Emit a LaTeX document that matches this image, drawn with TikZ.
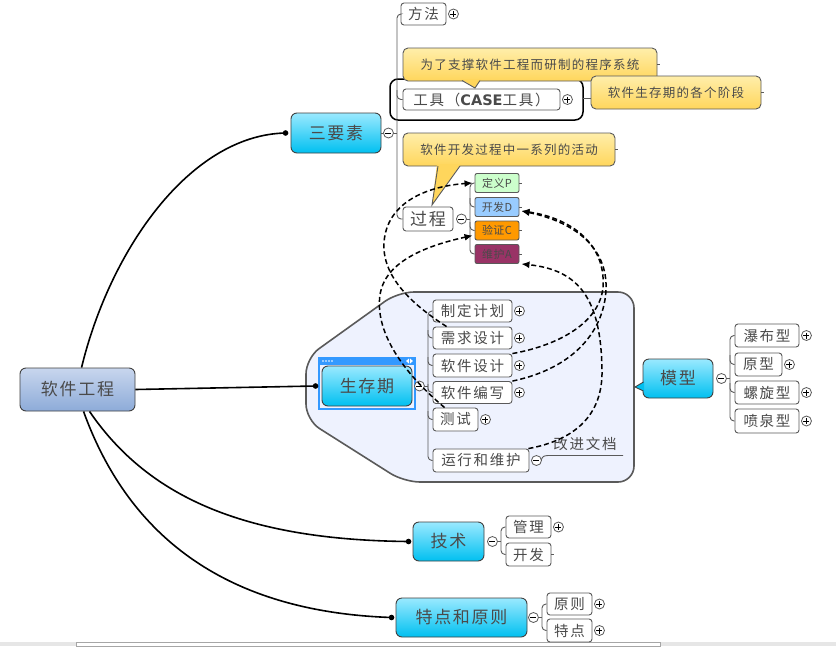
\documentclass[tikz,border=0pt]{standalone}
\usepackage{fontspec}
\usetikzlibrary{arrows.meta}
\newfontfamily\cjkM[LetterSpace=10]{Noto Sans CJK SC}
\newfontfamily\cjkS[LetterSpace=12]{Noto Sans CJK SC}
\newfontfamily\cjkC[LetterSpace=10]{Noto Sans CJK SC}
\newfontfamily\cjkP[LetterSpace=4]{Noto Sans CJK SC}
\newfontfamily\latb{DejaVu Sans}
\definecolor{txt}{HTML}{4A4A4A}
\definecolor{bd}{HTML}{5A5A5A}
\definecolor{cyT}{HTML}{9AE9FF}
\definecolor{cyB}{HTML}{00C0F0}
\definecolor{rjT}{HTML}{C8D6EE}
\definecolor{rjB}{HTML}{8DABD8}
\definecolor{ylT}{HTML}{FFEEAA}
\definecolor{ylB}{HTML}{FFD65C}
\definecolor{bnd}{HTML}{EEF2FE}
\definecolor{sel}{HTML}{3399FF}
\definecolor{cP}{HTML}{CCFFCC}
\definecolor{cD}{HTML}{99CCFF}
\definecolor{cC}{HTML}{FF9900}
\definecolor{cA}{HTML}{993366}
\definecolor{strip}{HTML}{E6E6E6}
\begin{document}
\begin{tikzpicture}[x=1pt,y=-1pt,
  subt/.style={draw=bd, line width=0.9pt, rounded corners=3pt, fill=white, text=txt, inner sep=0pt, font=\cjkS\fontsize{14.5}{15}\selectfont},
  maint/.style={draw=black!75, line width=0.9pt, rounded corners=6pt, top color=cyT, bottom color=cyB, text=txt, inner sep=0pt, font=\cjkM\fontsize{17}{17}\selectfont},
  callout/.style={draw=bd, line width=0.9pt, rounded corners=5pt, top color=ylT, bottom color=ylB, text=txt, inner sep=0pt, font=\cjkC\fontsize{12.5}{13}\selectfont},
  pdca/.style={draw=bd, line width=0.9pt, rounded corners=2pt, text=txt, inner sep=0pt, minimum width=44pt, minimum height=19pt, font=\cjkP\fontsize{11}{11}\selectfont},
  branch/.style={draw=bd, line width=0.9pt, rounded corners=4pt},
  tick/.style={draw=bd, line width=0.9pt},
  mainline/.style={draw=black, line width=1.6pt},
  rel/.style={draw=black, line width=1.5pt, dash pattern=on 5pt off 3pt, -{Latex[length=8pt,width=7pt]}},
  pics/togplus/.style={code={\draw[bd, fill=white, line width=0.8pt] (0,0) circle (5); \draw[black, line width=0.8pt] (-3,0)--(3,0) (0,-3)--(0,3);}},
  pics/togminus/.style={code={\draw[bd, fill=white, line width=0.8pt] (0,0) circle (5); \draw[black, line width=0.8pt] (-3,0)--(3,0);}},
]
\useasboundingbox (0,0) rectangle (836,646);
\fill[white] (0,0) rectangle (836,646);
% bottom strip
\fill[strip] (0,642) rectangle (836,646);
\draw[gray!70, fill=white] (76,642.5) rectangle (660,646);

% lifecycle boundary
\path[draw=bd, line width=1.6pt, fill=bnd, rounded corners=16pt] (306,420) -- (306,358) -- (398,292) -- (634,292) -- (634,482) -- (404,482) -- cycle;
% tool boundary
\draw[black, line width=1.5pt, rounded corners=8pt] (390,79) rectangle (583,120);
\coordinate (gjb) at (583,98);

% main topics
\node[maint, top color=rjT, bottom color=rjB, minimum width=115pt, minimum height=43pt] (rj) at (77.5,389.5) {软件工程};
\node[maint, minimum width=90pt, minimum height=40pt] (sy) at (336,133) {三要素};
\node[maint, minimum width=90pt, minimum height=40pt] (scq) at (367,386) {生存期};
\node[maint, minimum width=70pt, minimum height=39pt] (mx) at (678,378.5) {模型};
\node[maint, minimum width=71pt, minimum height=39pt] (js) at (448.5,541.5) {技术};
\node[maint, minimum width=131pt, minimum height=39pt] (td) at (461.5,617.5) {特点和原则};

% model tail
\fill[cyB] (644,382) -- (635,387) -- (644,391) -- cycle;
\draw[black!75, line width=0.9pt] (643.5,382) -- (635,387) -- (643.5,391);

% selection frame
\draw[sel, line width=2pt] (318.5,359) rectangle (414.5,408.5);
\fill[sel] (317.5,357) rectangle (415.5,365);
\foreach \i in {0,1,2,3} \fill[white] (323+3*\i,361) circle (0.8);
\fill[white] (406,361) -- (409,358.5) -- (409,363.5) -- cycle;
\fill[white] (410,358.5) -- (413,361) -- (410,363.5) -- cycle;

% three elements children
\node[subt, minimum width=45pt, minimum height=22pt] (ff) at (423.5,14) {方法};
\node[subt, minimum width=157pt, minimum height=21pt] (gj) at (481.5,99.5) {工具（{\latb\bfseries CASE}工具）};
\node[subt, font=\cjkM\fontsize{17}{17}\selectfont, minimum width=50pt, minimum height=24pt] (gc) at (428,219) {过程};

% callouts
\node[callout, minimum width=254pt, minimum height=33pt] (co1) at (530,64.5) {为了支撑软件工程而研制的程序系统};
\fill[ylB] (461,79) -- (475,88) -- (481,79) -- cycle;
\draw[bd, line width=0.9pt] (462,80.5) -- (475,88) -- (480,80.5);
\node[callout, minimum width=170pt, minimum height=33pt] (co2) at (676,92.5) {软件生存期的各个阶段};
\node[callout, minimum width=212pt, minimum height=33pt] (co3) at (509,149.5) {软件开发过程中一系列的活动};
\fill[ylB] (437,164) -- (432,205) -- (461,164) -- cycle;
\draw[bd, line width=0.9pt] (438,166) -- (432,205) -- (460,166);
\draw[tick] (gjb) -- ([yshift=-5.5pt]co2.west);
\draw[tick] (co1.east) -- ++(3,0);
\draw[tick] (co2.east) -- ++(3,0);
\draw[tick] (co3.east) -- ++(3,0);

% PDCA
\node[pdca, fill=cP] (dy) at (497,183) {定义P};
\node[pdca, fill=cD] (kf) at (497,207) {开发D};
\node[pdca, fill=cC] (yz) at (497,230.5) {验证C};
\node[pdca, fill=cA] (wh) at (497,254) {维护A};
\foreach \n in {dy,kf,yz,wh} \draw[tick] (\n.east) -- ++(3,0);

% lifecycle children
\node[subt, minimum width=79pt, minimum height=22pt] (zd) at (472.5,311) {制定计划};
\node[subt, minimum width=79pt, minimum height=22pt] (xq) at (472.5,338) {需求设计};
\node[subt, minimum width=79pt, minimum height=23pt] (rs) at (472.5,365.5) {软件设计};
\node[subt, minimum width=79pt, minimum height=22pt] (rb) at (472.5,392.5) {软件编写};
\node[subt, minimum width=45pt, minimum height=23pt] (cs) at (455.5,419.5) {测试};
\node[subt, minimum width=96pt, minimum height=23pt] (yw) at (481,460.5) {运行和维护};
\node[text=txt, font=\cjkS\fontsize{14.5}{15}\selectfont, inner sep=0pt] (gjwd) at (585,444) {改进文档};

% model children
\node[subt, minimum width=64pt, minimum height=23pt] (pb) at (767,335.5) {瀑布型};
\node[subt, minimum width=47pt, minimum height=23pt] (yx) at (758.5,364.5) {原型};
\node[subt, minimum width=64pt, minimum height=23pt] (lx) at (767,392.5) {螺旋型};
\node[subt, minimum width=64pt, minimum height=24pt] (pq) at (767,421) {喷泉型};

% technique children
\node[subt, minimum width=45pt, minimum height=22pt] (gl) at (528.5,527) {管理};
\node[subt, minimum width=45pt, minimum height=23pt] (kf2) at (528.5,554.5) {开发};
\draw[tick] (kf2.east) -- ++(3,0);

% features children
\node[subt, minimum width=45pt, minimum height=22pt] (yz2) at (569.5,604) {原则};
\node[subt, minimum width=45pt, minimum height=23pt] (tdn) at (569.5,630.5) {特点};

% branches
\draw[branch] (ff.west) -- (397,14) -- (397,219) -- (gc.west);
\draw[branch] (397,90) |- (gj.west);
\draw[tick] (393,133) -- (397,133);
\draw[tick] (sy.east) -- ++(2,0);

\draw[branch] (dy.west) -- (470,183) -- (470,254) -- (wh.west);
\draw[branch] (470,198) |- (kf.west);
\draw[branch] (470,222) |- (yz.west);
\draw[tick] (466,219) -- (470,219);

\draw[branch] (zd.west) -- (428,311) -- (428,460.5) -- (yw.west);
\draw[branch] (428,330) |- (xq.west);
\draw[branch] (428,357) |- (rs.west);
\draw[branch] (428,384) |- (rb.west);
\draw[branch] (428,411) |- (cs.west);
\draw[tick] (424,386) -- (428,386);

\draw[branch] (pb.west) -- (730,335.5) -- (730,421) -- (pq.west);
\draw[branch] (730,355) |- (yx.west);
\draw[branch] (730,383) |- (lx.west);
\draw[tick] (726,378.5) -- (730,378.5);

\draw[branch] (gl.west) -- (501,527) -- (501,554.5) -- (kf2.west);
\draw[tick] (497,541.5) -- (501,541.5);

\draw[branch] (yz2.west) -- (542,604) -- (542,630.5) -- (tdn.west);
\draw[tick] (538,617.5) -- (542,617.5);

\draw[tick] (541,460.5) .. controls (543,456) .. (548,455.5) -- (623,455.5);

% toggles
\pic at ([xshift=7pt]sy.east) {togminus};
\pic at ([xshift=7pt]scq.east) {togminus};
\pic at ([xshift=8pt]mx.east) {togminus};
\pic at ([xshift=8pt]js.east) {togminus};
\pic at ([xshift=6pt]td.east) {togminus};
\pic at ([xshift=8pt]gc.east) {togminus};
\pic at ([xshift=7pt]yw.east) {togminus};
\foreach \n in {ff,gj,zd,xq,rs,rb,cs,pb,yx,lx,pq,gl,yz2,tdn} \pic at ([xshift=7pt]\n.east) {togplus};

% main connectors
\coordinate (sydot) at ([xshift=-5pt]sy.west);
\coordinate (scqdot) at ([xshift=-6pt]scq.west);
\coordinate (jsdot) at ([xshift=-4pt]js.west);
\coordinate (tddot) at ([xshift=-4pt]td.west);
\draw[mainline] ([xshift=62pt]rj.north west) .. controls (110,250) and (190,135) .. (sydot);
\draw[mainline] (rj.east) -- (scqdot);
\draw[mainline] ([xshift=70pt]rj.south west) .. controls (150,500) and (250,540) .. (jsdot);
\draw[mainline] ([xshift=64pt]rj.south west) .. controls (130,540) and (230,612) .. (tddot);
\foreach \c in {sydot,scqdot,jsdot,tddot} \fill[black] (\c) circle (2.8);

% relationships
\draw[rel] ([xshift=14pt]xq.north west) .. controls (405,300) and (378,270) .. (385,235) .. controls (392,200) and (430,186) .. ([xshift=-2pt]dy.west);
\draw[rel] ([xshift=12pt]cs.north west) .. controls (400,370) and (375,330) .. (380,295) .. controls (385,260) and (430,245) .. ([xshift=-2pt,yshift=-5pt]yz.west);
\draw[rel] (rs.north east) .. controls (560,345) and (600,322) .. (603,287) .. controls (606,245) and (572,218) .. ([xshift=2pt,yshift=-4pt]kf.east);
\draw[rel] (rb.north east) .. controls (575,368) and (604,330) .. (606,290) .. controls (608,248) and (575,222) .. ([xshift=2pt,yshift=-4pt]kf.east);
\draw[rel] ([xshift=-1pt]yw.north east) .. controls (575,440) and (603,415) .. (602,370) .. controls (601,300) and (580,270) .. ([xshift=2pt]wh.south east);
\end{tikzpicture}
\end{document}
